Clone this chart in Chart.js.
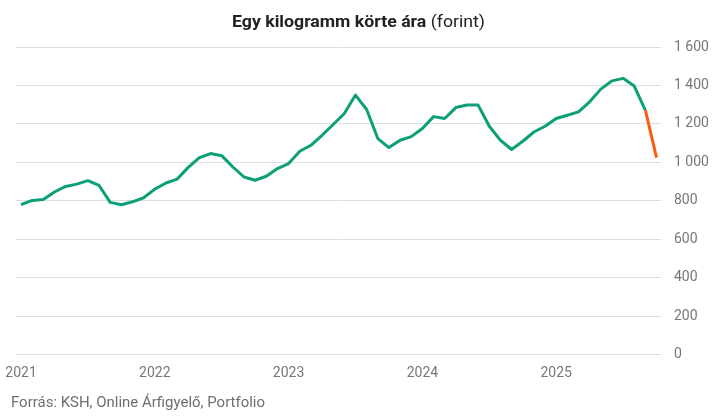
<!DOCTYPE html>
<html>
<head>
<meta charset="utf-8">
<script src="https://cdn.jsdelivr.net/npm/chart.js@4"></script>
<style>
  body { margin: 0; background: #fff; }
  canvas { display: block; }
</style>
</head>
<body>
<canvas id="chart" width="718" height="417"></canvas>
<script>
// data: monthly price of 1 kg pear, 2021 Jan - 2025 Oct
const years = ["2021", "2022", "2023", "2024", "2025"];
const prices = [
  780, 802, 807, 846, 875, 887, 905, 880, 792, 780, 795, 816,
  861, 893, 913, 974, 1025, 1046, 1035, 976, 924, 907, 928, 968,
  994, 1058, 1089, 1141, 1197, 1254, 1350, 1275, 1124, 1077, 1115, 1134,
  1176, 1238, 1228, 1285, 1298, 1298, 1188, 1115, 1067, 1110, 1158, 1188,
  1228, 1245, 1263, 1315, 1381, 1424, 1437, 1397, 1271, 1025
];
const yTicks = [0, 200, 400, 600, 800, 1000, 1200, 1400, 1600];

const titleBold = "Egy kilogramm körte ára";
const titleRest = "(forint)";
const source = "Forrás: KSH, Online Árfigyelő, Portfolio";

const GREEN = "#0c9f78";
const ORANGE = "#ff5a0a";
const lastIdx = prices.length - 1;

// 🔤 title + source drawn on canvas
const textPlugin = {
  id: "texts",
  afterDraw(chart) {
    const c = chart.ctx;
    c.save();
    c.textBaseline = "alphabetic";
    const bold = "700 17px Roboto", norm = "400 17px Roboto";
    c.font = bold;
    const w1 = c.measureText(titleBold + " ").width;
    c.font = norm;
    const w2 = c.measureText(titleRest).width;
    const sx = 253 / (w1 + w2);
    c.translate(232, 27);
    c.scale(sx, 1);
    c.fillStyle = "#222";
    c.font = bold;
    c.fillText(titleBold + " ", 0, 0);
    c.font = norm;
    c.fillText(titleRest, w1, 0);
    c.restore();

    c.save();
    c.font = "400 14px Roboto";
    const w3 = c.measureText(source).width;
    c.translate(11, 407);
    c.scale(254 / w3, 1);
    c.fillStyle = "#6e6e6e";
    c.fillText(source, 0, 0);
    c.restore();
  }
};

const ctx = document.getElementById("chart").getContext("2d");

new Chart(ctx, {
  type: "line",
  data: {
    datasets: [{
      data: prices.map((v, i) => ({ x: i, y: v })),
      borderColor: GREEN,
      borderWidth: 3,
      pointRadius: 0,
      tension: 0,
      borderJoinStyle: "round",
      segment: {
        borderColor: s => s.p1DataIndex === lastIdx ? ORANGE : GREEN
      }
    }]
  },
  options: {
    responsive: false,
    animation: false,
    layout: { padding: { left: 16, right: 0, top: 47, bottom: 0 } },
    plugins: {
      legend: { display: false },
      tooltip: { enabled: false }
    },
    scales: {
      x: {
        type: "linear",
        min: -0.45,
        max: 57.4,
        afterBuildTicks: s => { s.ticks = years.map((y, i) => ({ value: i * 12 })); },
        afterFit: s => { s.height = 62.3; s.paddingLeft = 0; s.paddingRight = 0; },
        grid: { display: false, drawTicks: false },
        border: { display: false },
        ticks: {
          padding: 10,
          maxRotation: 0,
          color: "#777",
          font: { family: "Roboto", size: 14 },
          callback: v => years[v / 12]
        }
      },
      y: {
        position: "right",
        min: 0,
        max: 1600,
        afterBuildTicks: s => { s.ticks = yTicks.map(v => ({ value: v })); },
        afterFit: s => { s.width = 57; s.paddingTop = 0; s.paddingBottom = 0; },
        grid: { color: "#d8e1de", lineWidth: 1, drawTicks: false },
        border: { display: false },
        ticks: {
          padding: 13,
          color: "#777",
          font: { family: "Roboto", size: 14 },
          callback: v => v >= 1000 ? Math.floor(v / 1000) + " " + String(v % 1000).padStart(3, "0") : String(v)
        }
      }
    }
  },
  plugins: [textPlugin]
});
</script>
</body>
</html>
